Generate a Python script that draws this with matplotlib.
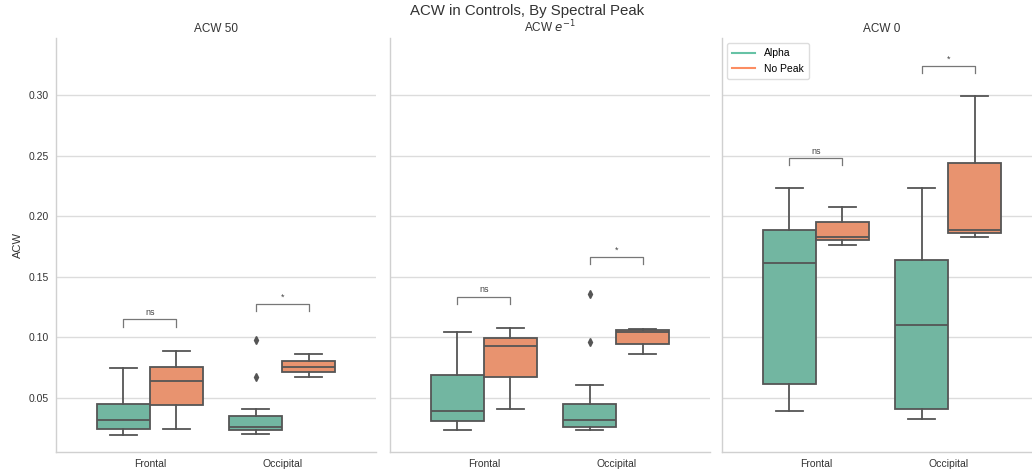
import matplotlib
matplotlib.use("Agg")
import matplotlib.pyplot as plt
from matplotlib.lines import Line2D

plt.rcParams['font.family'] = ['Liberation Sans', 'DejaVu Sans']

panels = ["ACW 50", "ACW $e^{-1}$", "ACW 0"]
regions = ["Frontal", "Occipital"]
groups = ["Alpha", "No Peak"]
colors = ["#72b6a1", "#e8936f"]
legend_colors = ["#66c2a5", "#fc8d62"]

# box stats per panel: [region][group] -> (whislo, q1, med, q3, whishi)
acw50 = [[(0.0192, 0.0244, 0.0318, 0.0454, 0.0750), (0.0247, 0.0440, 0.0636, 0.0756, 0.0886)],
         [(0.0206, 0.0233, 0.0260, 0.0349, 0.0407), (0.0674, 0.0715, 0.0754, 0.0806, 0.0859)]]
acwe = [[(0.0233, 0.0307, 0.0396, 0.0688, 0.1043), (0.0407, 0.0669, 0.0927, 0.0996, 0.1074)],
        [(0.0233, 0.0260, 0.0322, 0.0454, 0.0605), (0.0859, 0.0948, 0.1048, 0.1058, 0.1072)]]
acw0 = [[(0.0396, 0.0619, 0.1616, 0.1886, 0.2231), (0.1765, 0.1804, 0.1826, 0.1950, 0.2074)],
        [(0.0326, 0.0409, 0.1101, 0.1636, 0.2231), (0.1829, 0.1859, 0.1886, 0.2437, 0.2992)]]
stats_all = [acw50, acwe, acw0]

# outliers per panel: [region][group]
fliers_all = [[[[], []], [[0.0977, 0.0671], []]],
              [[[], []], [[0.1360, 0.0961], []]],
              [[[], []], [[], []]]]

# annotation brackets per panel: (region, bracket y, label)
annots = [[(0, 0.1088, "ns"), (1, 0.1215, "*")],
          [(0, 0.1277, "ns"), (1, 0.1605, "*")],
          [(0, 0.2418, "ns"), (1, 0.3180, "*")]]
bracket_h = 0.0060

yticks = [0.05, 0.10, 0.15, 0.20, 0.25, 0.30]

W, H = 1032, 475
fig = plt.figure(figsize=(W / 100, H / 100), dpi=100)
lefts = [56, 390, 722]
pw, top_px, bot_px = 320, 38, 452
line_c = "#555555"
axes = []
for i, left in enumerate(lefts):
    ax = fig.add_axes([left / W, (H - bot_px) / H, pw / W, (bot_px - top_px) / H])
    axes.append(ax)
    ax.set_facecolor("white")
    for s in ["top", "right"]:
        ax.spines[s].set_visible(False)
    for s in ["left", "bottom"]:
        ax.spines[s].set_color("#d0d0d0")
        ax.spines[s].set_linewidth(1.0)
    ax.set_ylim(0.0054, 0.347)
    ax.set_xlim(-0.71, 1.71)
    ax.set_yticks(yticks)
    ax.grid(axis="y", color="#dcdcdc", linewidth=1.0)
    ax.set_axisbelow(True)
    ax.tick_params(length=0, labelsize=7.5, colors="#333333", pad=5)
    ax.set_xticks(range(len(regions)))
    ax.set_xticklabels(regions)
    if i == 0:
        ax.set_yticklabels([f"{t:.2f}" for t in yticks])
        ax.set_ylabel("ACW", fontsize=8, color="#333333", labelpad=4)
    else:
        ax.set_yticklabels([])
    ax.set_title(panels[i], fontsize=8.5, color="#333333", pad=4)

    for r in range(len(regions)):
        for g in range(len(groups)):
            wl, q1, med, q3, wh = stats_all[i][r][g]
            st = dict(whislo=wl, q1=q1, med=med, q3=q3, whishi=wh, fliers=fliers_all[i][r][g])
            pos = r + (-0.2 if g == 0 else 0.2)
            ax.bxp([st], positions=[pos], widths=0.4, capwidths=0.2, patch_artist=True,
                   boxprops=dict(facecolor=colors[g], edgecolor=line_c, linewidth=1.3),
                   medianprops=dict(color=line_c, linewidth=1.3),
                   whiskerprops=dict(color=line_c, linewidth=1.3),
                   capprops=dict(color=line_c, linewidth=1.3),
                   flierprops=dict(marker="d", markerfacecolor=line_c, markeredgecolor=line_c,
                                   markersize=4),
                   manage_ticks=False)
    for (r, y, lab) in annots[i]:
        x1, x2 = r - 0.2, r + 0.2
        ax.plot([x1, x1, x2, x2], [y, y + bracket_h, y + bracket_h, y], color="#777777",
                linewidth=0.9)
        ax.text(r, y + bracket_h + 0.002, lab, ha="center", va="bottom", fontsize=6.5,
                color="#444444")

handles = [Line2D([0], [0], color=c, lw=1.5) for c in legend_colors]
axes[2].legend(handles, groups, loc="upper left", fontsize=7.5, frameon=True,
               edgecolor="#dddddd", framealpha=1.0, borderpad=0.5, handlelength=2.2)

fig.suptitle("ACW in Controls, By Spectral Peak", x=527 / W, y=1 - 4 / H, fontsize=10.8,
             color="#333333", va="top")

fig.savefig("out.png", dpi=100)
